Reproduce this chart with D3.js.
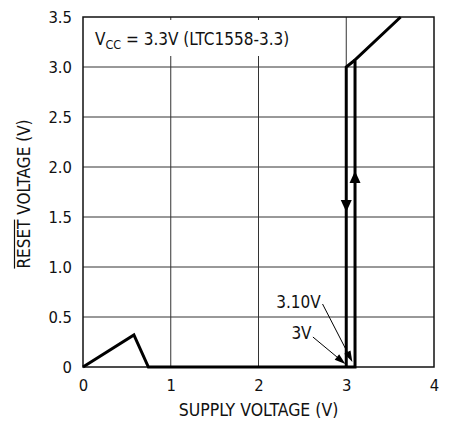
<!DOCTYPE html>
<html>
<head>
<meta charset="utf-8">
<script src="https://cdn.jsdelivr.net/npm/d3@7"></script>
<style>
  html, body { margin: 0; padding: 0; background: #fff; }
  svg { display: block; }
  text { font-family: "Liberation Sans Narrow", "Arial Narrow", "DejaVu Sans Condensed", sans-serif; fill: #111; }
</style>
</head>
<body>
<svg id="chart" width="459" height="423"></svg>
<script>
// ---- data ----
const xTicks = [0, 1, 2, 3, 4];
const yTicks = [0, 0.5, 1.0, 1.5, 2.0, 2.5, 3.0, 3.5];
const yTickLabels = ["0", "0.5", "1.0", "1.5", "2.0", "2.5", "3.0", "3.5"];
// rising supply sweep
const riseX = [0, 0.58, 0.745, 3.1, 3.1, 3.62];
const riseY = [0, 0.32, 0, 0, 3.07, 3.5];
// falling supply sweep
const fallX = [3.0, 3.0, 3.1];
const fallY = [0, 3.0, 3.07];
// direction arrows: x, tip y (volts), direction
const arrowX = [3.0, 3.1];
const arrowY = [1.55, 1.96];
const arrowDir = ["down", "up"];
// threshold annotations
const annoText = ["3.10V", "3V"];
const annoTextX = [2.71, 2.605];   // right edge of label (V)
const annoTextY = [0.59, 0.28];   // baseline (V)
const annoFromX = [2.73, 2.62];
const annoFromY = [0.63, 0.30];
const annoToX = [3.07, 2.99];
const annoToY = [0.05, 0.03];

const svg = d3.select("#chart");
const x = d3.scaleLinear().domain([0, 4]).range([83, 434]);
const y = d3.scaleLinear().domain([0, 3.5]).range([367, 17]);

// grid
svg.append("g").selectAll("line").data(yTicks.slice(1, -1)).join("line")
  .attr("x1", x(0)).attr("x2", x(4))
  .attr("y1", d => y(d)).attr("y2", d => y(d))
  .attr("stroke", "#333").attr("stroke-width", 1);
svg.append("g").selectAll("line").data(xTicks.slice(1, -1)).join("line")
  .attr("y1", y(0)).attr("y2", y(3.5))
  .attr("x1", d => x(d)).attr("x2", d => x(d))
  .attr("stroke", "#333").attr("stroke-width", 1);

// header label with white box
svg.append("rect").attr("x", x(0) + 2).attr("y", y(3.5) + 3)
  .attr("width", 220).attr("height", 36).attr("fill", "#fff");
const hdr = svg.append("text").attr("x", 95).attr("y", 45).attr("font-size", 17);
hdr.append("tspan").text("V");
hdr.append("tspan").text("CC").attr("font-size", 12.5).attr("dy", 4);
hdr.append("tspan").text(" = 3.3V (LTC1558-3.3)").attr("dy", -4);

// frame
svg.append("rect").attr("x", x(0)).attr("y", y(3.5))
  .attr("width", x(4) - x(0)).attr("height", y(0) - y(3.5))
  .attr("fill", "none").attr("stroke", "#111").attr("stroke-width", 1.5);

// axes (labels only)
const xAxis = d3.axisBottom(x).tickValues(xTicks).tickSize(0).tickPadding(12).tickFormat(d3.format("d"));
const gx = svg.append("g").attr("transform", `translate(0,${y(0)})`).call(xAxis);
gx.select(".domain").remove();
gx.selectAll("text").attr("font-size", 16.5).attr("font-family", null).attr("fill", "#111");

const yAxis = d3.axisLeft(y).tickValues(yTicks).tickSize(0).tickPadding(11)
  .tickFormat((d, i) => yTickLabels[i]);
const gy = svg.append("g").attr("transform", `translate(${x(0)},0)`).call(yAxis);
gy.select(".domain").remove();
gy.selectAll("text").attr("font-size", 16.5).attr("font-family", null).attr("fill", "#111");

// curves
const line = d3.line().x(d => x(d[0])).y(d => y(d[1]));
svg.append("path").datum(riseX.map((v, i) => [v, riseY[i]]))
  .attr("d", line).attr("fill", "none").attr("stroke", "#000")
  .attr("stroke-width", 3).attr("stroke-linejoin", "miter");
svg.append("path").datum(fallX.map((v, i) => [v, fallY[i]]))
  .attr("d", line).attr("fill", "none").attr("stroke", "#000")
  .attr("stroke-width", 3).attr("stroke-linejoin", "miter");

// direction arrows
arrowX.forEach((ax, i) => {
  const px = x(ax), py = y(arrowY[i]);
  const tri = arrowDir[i] === "down"
    ? [[px, py], [px - 5.5, py - 12], [px + 5.5, py - 12]]
    : [[px, py], [px - 5.5, py + 12], [px + 5.5, py + 12]];
  svg.append("path").attr("d", "M" + tri.map(p => p.join(",")).join("L") + "Z").attr("fill", "#000");
});

// annotations
annoText.forEach((t, i) => {
  svg.append("text").attr("x", x(annoTextX[i])).attr("y", y(annoTextY[i]))
    .attr("text-anchor", "end").attr("font-size", 17).text(t);
  const x1 = x(annoFromX[i]), y1 = y(annoFromY[i]);
  const x2 = x(annoToX[i]), y2 = y(annoToY[i]);
  const ang = Math.atan2(y2 - y1, x2 - x1);
  const L = 11, W = 3.5;
  const bx = x2 - L * Math.cos(ang), by = y2 - L * Math.sin(ang);
  svg.append("line").attr("x1", x1).attr("y1", y1).attr("x2", bx).attr("y2", by)
    .attr("stroke", "#000").attr("stroke-width", 1);
  const p1 = [bx + W * Math.sin(ang), by - W * Math.cos(ang)];
  const p2 = [bx - W * Math.sin(ang), by + W * Math.cos(ang)];
  svg.append("path").attr("d", `M${x2},${y2}L${p1}L${p2}Z`).attr("fill", "#000");
});

// axis titles
svg.append("text").attr("x", (x(0) + x(4)) / 2).attr("y", 416)
  .attr("text-anchor", "middle").attr("font-size", 17.5).text("SUPPLY VOLTAGE (V)");
const ylT = `translate(30,${(y(0) + y(3.5)) / 2 + 2}) rotate(-90)`;
const yl = svg.append("text").attr("transform", ylT)
  .attr("text-anchor", "middle").attr("font-size", 17);
const reset = yl.append("tspan").text("RESET");
yl.append("tspan").text(" VOLTAGE (V)");
// overline above RESET
const rEl = reset.node();
const n = rEl.getNumberOfChars();
const start = rEl.getStartPositionOfChar(0);
const end = rEl.getEndPositionOfChar(n - 1);
svg.append("line").attr("transform", ylT)
  .attr("x1", start.x).attr("x2", end.x).attr("y1", -15.5).attr("y2", -15.5)
  .attr("stroke", "#111").attr("stroke-width", 1.2);
</script>
</body>
</html>
